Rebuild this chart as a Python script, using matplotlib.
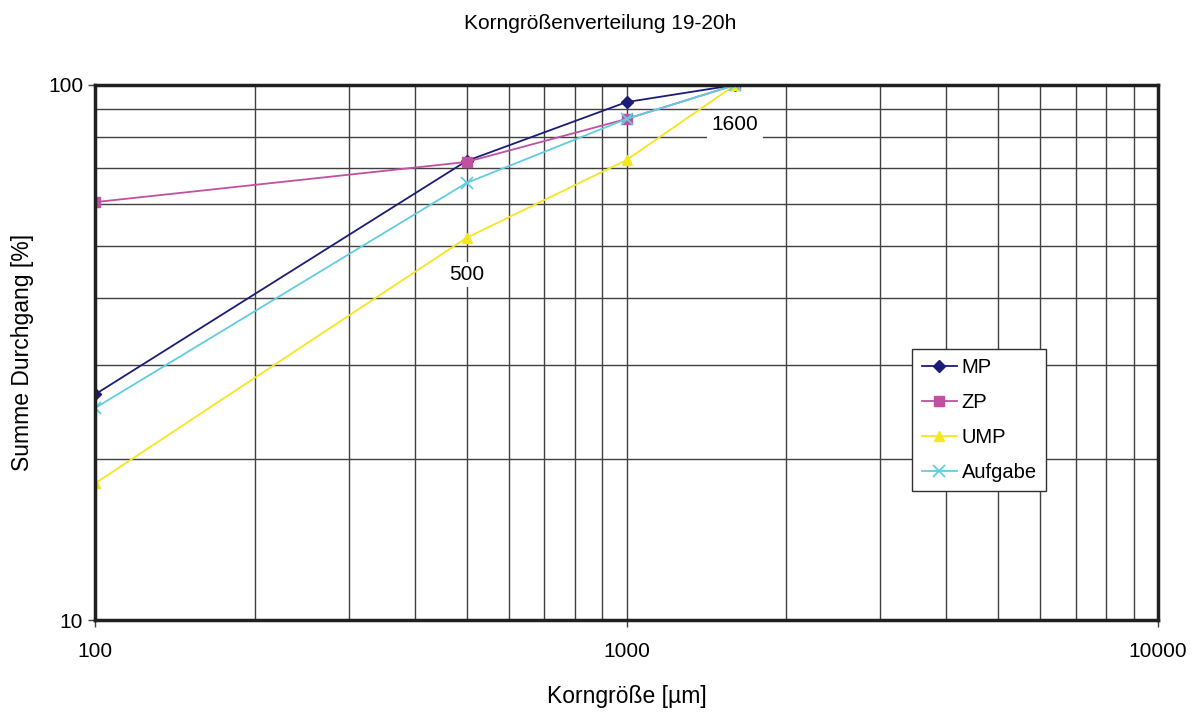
import numpy as np
import matplotlib.pyplot as plt
from matplotlib.ticker import FixedLocator, NullFormatter

plt.rcParams['font.family'] = ['Liberation Sans', 'DejaVu Sans']

# Daten
korngroesse = [100, 500, 1000, 1600]
mp = [26.4, 72.1, 92.9, 100]
zp = [60.4, 71.8, 86.4, 100]
ump = [18.0, 51.8, 72.4, 100]
aufgabe = [24.9, 65.6, 86.4, 100]

fig = plt.figure(figsize=(12.01, 7.13), dpi=100)
ax = fig.add_axes([0.0791, 0.1304, 0.8851, 0.7504])

ax.set_xscale('log')
ax.set_yscale('log')
ax.set_xlim(100, 10000)
ax.set_ylim(10, 100)

# Gitter
ax.grid(True, which='both', color='#404040', linewidth=1.0)
ax.set_axisbelow(True)

ax.plot(korngroesse, mp, color='#1c1c78', marker='D', markersize=6, lw=1.3, label='MP')
ax.plot(korngroesse, zp, color='#c050a0', marker='s', markersize=7, lw=1.3, label='ZP')
ax.plot(korngroesse, ump, color='#f5e61e', marker='^', markersize=7, lw=1.3, label='UMP')
ax.plot(korngroesse, aufgabe, color='#60cde0', marker='x', markersize=8, mew=1.3, lw=1.3, label='Aufgabe')

# Achsen
for sp in ax.spines.values():
    sp.set_linewidth(2.5)
    sp.set_color('#202020')

ax.xaxis.set_major_locator(FixedLocator([100, 1000, 10000]))
ax.yaxis.set_major_locator(FixedLocator([10, 100]))
ax.set_xticklabels(['100', '1000', '10000'])
ax.set_yticklabels(['10', '100'])
ax.xaxis.set_minor_formatter(NullFormatter())
ax.yaxis.set_minor_formatter(NullFormatter())
ax.tick_params(which='major', length=5, width=1, labelsize=15, color='#404040')
ax.tick_params(which='minor', length=0)
ax.tick_params(axis='x', pad=11)

ax.set_xlabel('Korngröße [µm]', fontsize=16.5, labelpad=17)
ax.set_ylabel('Summe Durchgang [%]', fontsize=16.5, labelpad=10)
fig.suptitle('Korngrößenverteilung 19-20h', fontsize=15, y=0.98)

# Beschriftungen
ax.text(500, 44.2, '500', fontsize=15, ha='center', va='center',
        bbox=dict(facecolor='white', edgecolor='none', pad=2))
ax.text(1600, 84.2, '1600', fontsize=15, ha='center', va='center',
        bbox=dict(facecolor='white', edgecolor='none', pad=3))

leg = ax.legend(loc='upper left', bbox_to_anchor=(0.769, 0.507), fontsize=14.5,
                frameon=True, fancybox=False, edgecolor='#303030',
                framealpha=1, handlelength=1.75, handletextpad=0.25,
                labelspacing=0.8, borderpad=0.45, borderaxespad=0)
leg.get_frame().set_linewidth(1.0)

fig.savefig('out.png', dpi=100)
